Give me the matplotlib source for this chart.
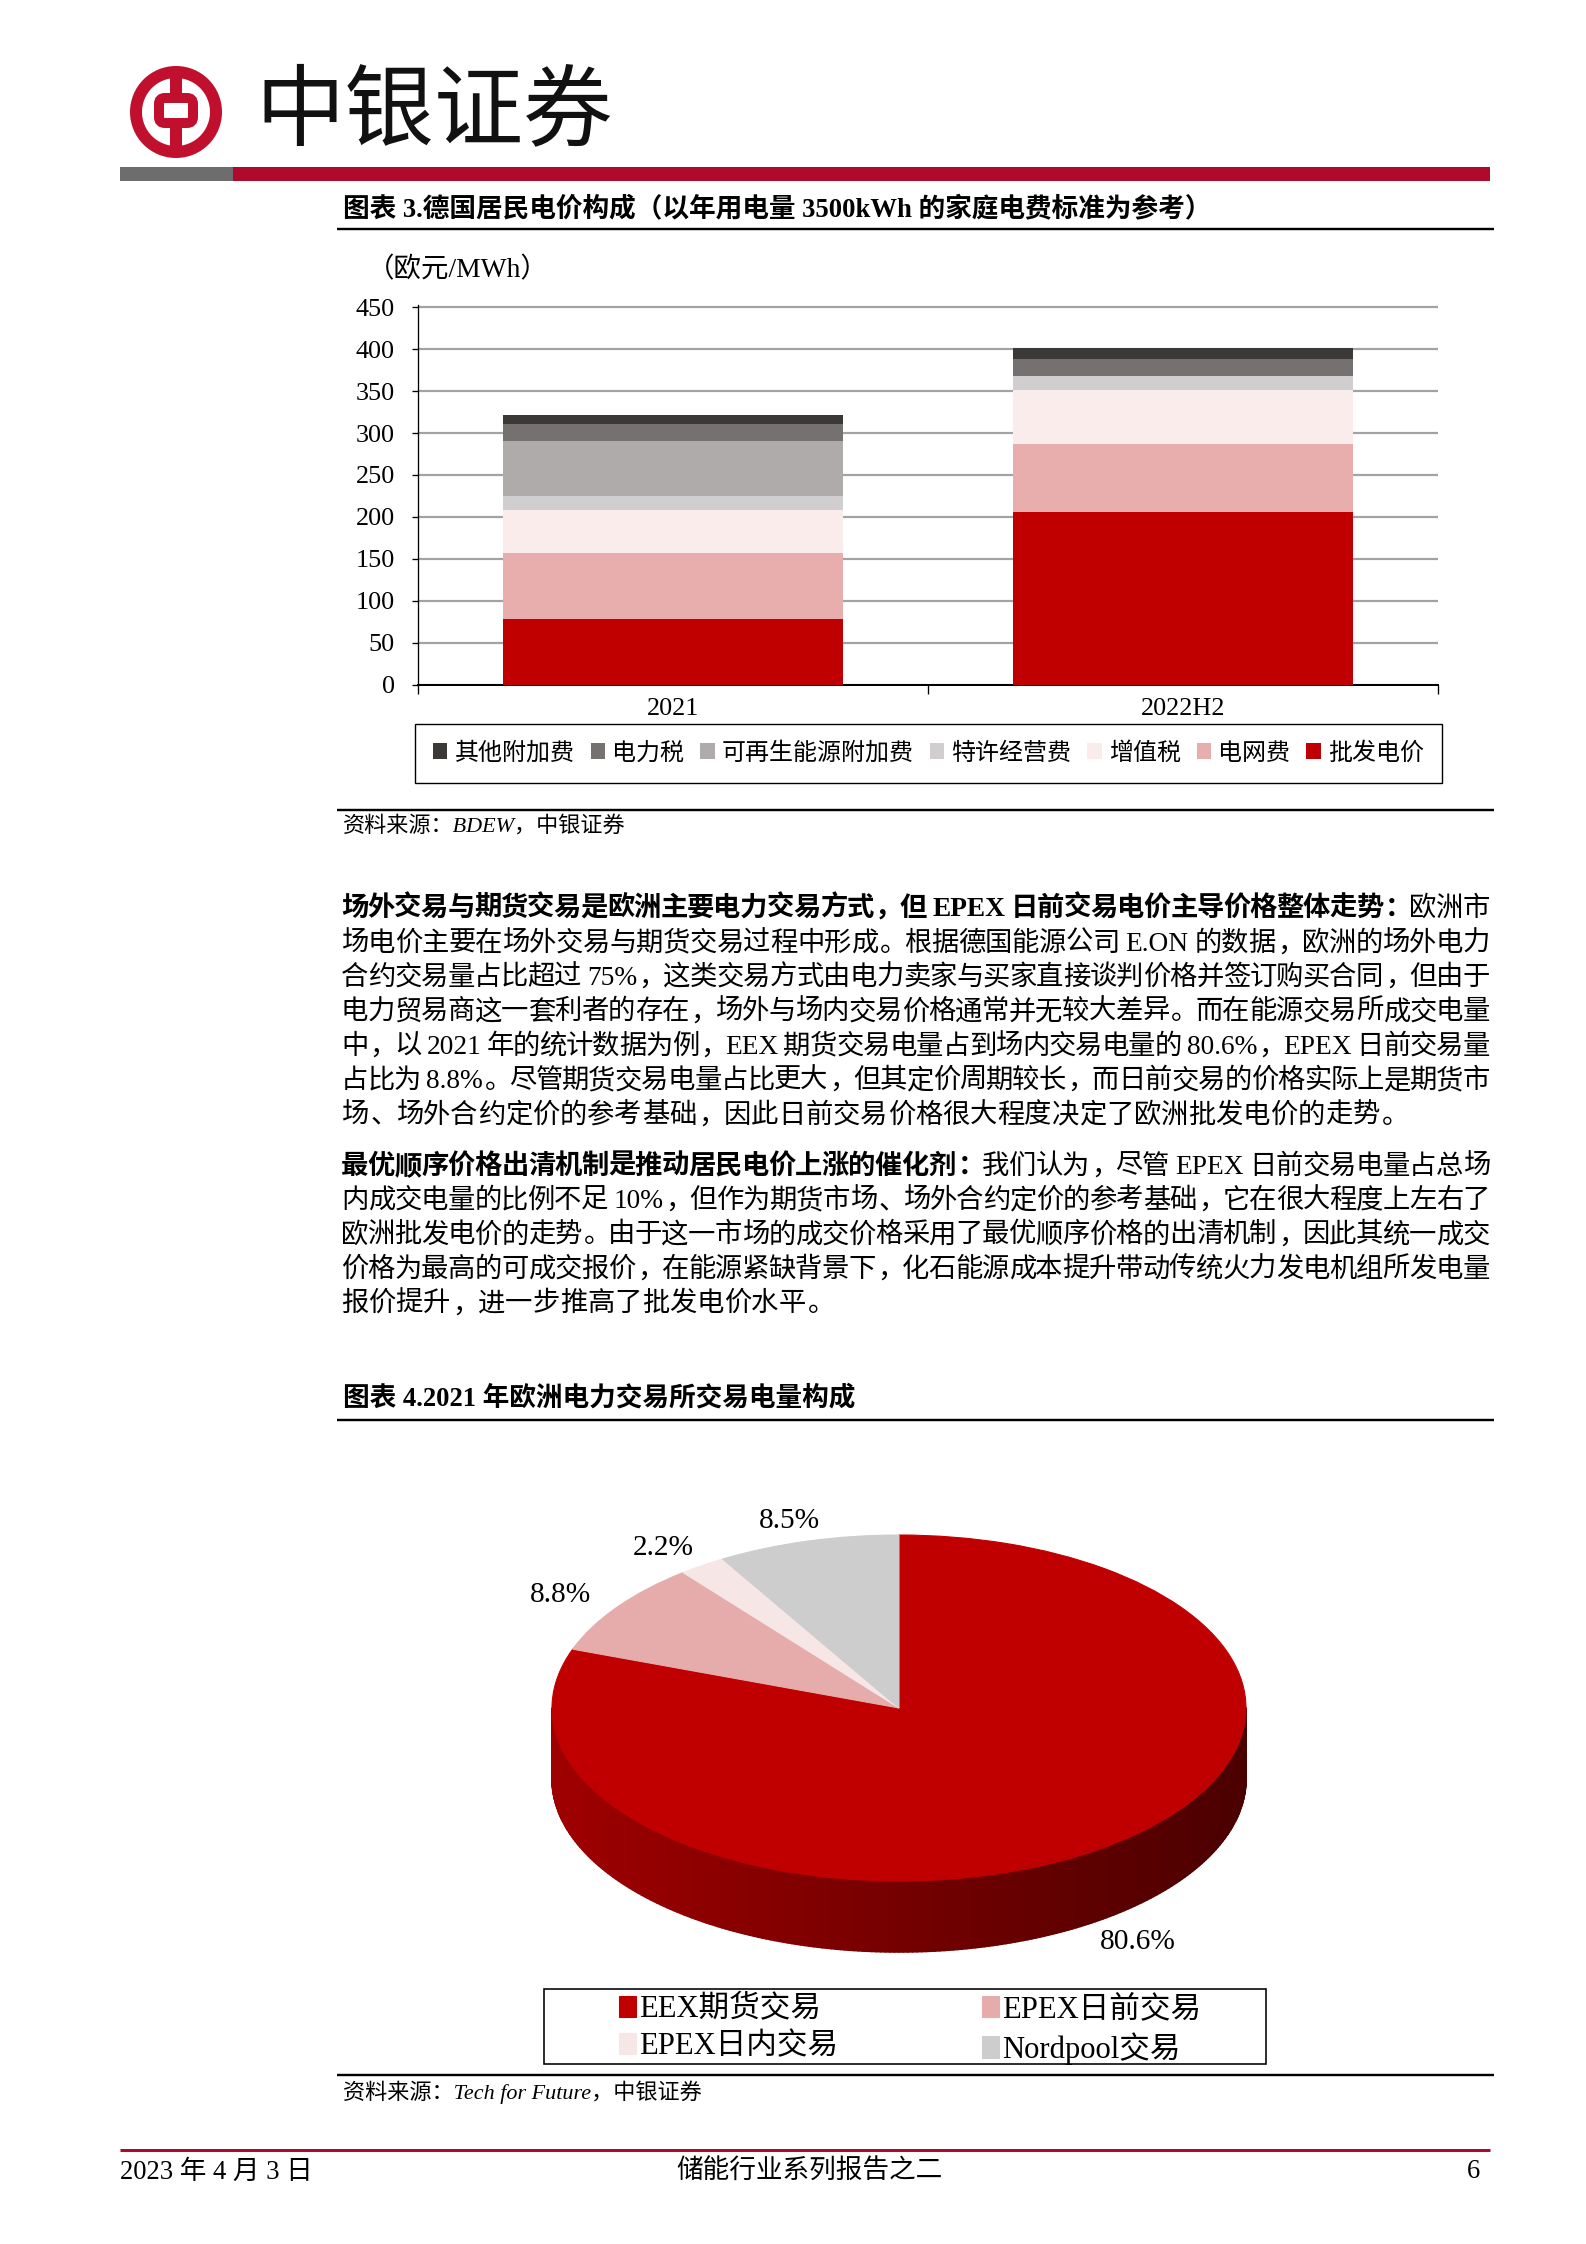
import re
import numpy as np
import matplotlib
matplotlib.use('Agg')
import matplotlib.pyplot as plt
from matplotlib import patches
from matplotlib.collections import PolyCollection
from matplotlib.transforms import Affine2D
from matplotlib.colors import to_rgb

# latin text in a Times-like face, chinese falls through to Noto CJK
plt.rcParams['font.family'] = ['Liberation Serif', 'Noto Sans CJK SC']

W, H, DPI = 1586, 2244, 192
PX = DPI / 72.0   # pixels per point

# ---- 图表3: 德国居民电价构成 (欧元/MWh) ----
periods = ['2021', '2022H2']
wholesale = [78.6, 206.1]     # 批发电价
grid_fee = [78.7, 81.0]       # 电网费
vat = [51.3, 64.0]            # 增值税
concession = [16.6, 16.6]     # 特许经营费
renewable = [65.0, 0.0]       # 可再生能源附加费
power_tax = [20.5, 20.5]      # 电力税
other_levy = [10.9, 12.5]     # 其他附加费
component_names = ['批发电价', '电网费', '增值税', '特许经营费', '可再生能源附加费', '电力税', '其他附加费']
component_colors = ['#C00000', '#E8ADAD', '#FAECEB', '#D0CECE', '#AFABAB', '#767171', '#3B3838']
y_ticks = [0, 50, 100, 150, 200, 250, 300, 350, 400, 450]

# ---- 图表4: 2021年欧洲电力交易所交易电量构成 (%) ----
exchange_names = ['EEX期货交易', 'EPEX日前交易', 'EPEX日内交易', 'Nordpool交易']
exchange_share = [80.6, 8.8, 2.2, 8.5]
exchange_colors = ['#C00000', '#E6ACAB', '#F7E6E6', '#CECDCD']

para1 = [
    [("场外交易与期货交易是欧洲主要电力交易方式，但 EPEX 日前交易电价主导价格整体走势：", True), ("欧洲市", False)],
    [("场电价主要在场外交易与期货交易过程中形成。根据德国能源公司 E.ON 的数据，欧洲的场外电力", False)],
    [("合约交易量占比超过 75%，这类交易方式由电力卖家与买家直接谈判价格并签订购买合同，但由于", False)],
    [("电力贸易商这一套利者的存在，场外与场内交易价格通常并无较大差异。而在能源交易所成交电量", False)],
    [("中，以 2021 年的统计数据为例，EEX 期货交易电量占到场内交易电量的 80.6%，EPEX 日前交易量", False)],
    [("占比为 8.8%。尽管期货交易电量占比更大，但其定价周期较长，而日前交易的价格实际上是期货市", False)],
    [("场、场外合约定价的参考基础，因此日前交易价格很大程度决定了欧洲批发电价的走势。", False)],
]
para2 = [
    [("最优顺序价格出清机制是推动居民电价上涨的催化剂：", True), ("我们认为，尽管 EPEX 日前交易电量占总场", False)],
    [("内成交电量的比例不足 10%，但作为期货市场、场外合约定价的参考基础，它在很大程度上左右了", False)],
    [("欧洲批发电价的走势。由于这一市场的成交价格采用了最优顺序价格的出清机制，因此其统一成交", False)],
    [("价格为最高的可成交报价，在能源紧缺背景下，化石能源成本提升带动传统火力发电机组所发电量", False)],
    [("报价提升，进一步推高了批发电价水平。", False)],
]


def fx(px):
    return px / W


def fy(py):
    return 1 - py / H


fig = plt.figure(figsize=(W / DPI, H / DPI), dpi=DPI)
# full page axes in pixel units (y down) for the report decorations
page = fig.add_axes([0, 0, 1, 1])
page.set_xlim(0, W)
page.set_ylim(H, 0)
page.axis('off')
renderer = fig.canvas.get_renderer()


def hline(y, x0=337, x1=1494, lw=2.4, color='black'):
    page.plot([x0, x1], [y, y], color=color, lw=lw / PX, solid_capstyle='butt')


# header: logo + name + bar
LOGO_RED = '#C0102E'
page.add_patch(patches.Circle((176, 112), 40, fill=False, ec=LOGO_RED, lw=12 / PX))
page.add_patch(patches.FancyBboxPatch((159, 98), 34, 25, boxstyle='round,pad=0,rounding_size=6',
                                      fill=False, ec=LOGO_RED, lw=10 / PX))
page.add_patch(patches.Rectangle((170, 68), 12, 30, color=LOGO_RED, lw=0))
page.add_patch(patches.Rectangle((170, 123), 12, 32, color=LOGO_RED, lw=0))
page.text(434, 113, '中银证券', fontsize=33.5, ha='center', va='center',
          family='Noto Sans CJK SC', color='#111111')
page.add_patch(patches.Rectangle((120, 167), 113, 14, color='#6D6D6D', lw=0))
page.add_patch(patches.Rectangle((233, 167), 1257, 14, color='#AF0A2C', lw=0))

# ---------------- chart 3 ----------------
page.text(343, 209, '图表 3.德国居民电价构成（以年用电量 3500kWh 的家庭电费标准为参考）',
          fontsize=10, fontweight='bold', va='center')
hline(229)
page.text(367, 270, '（欧元/MWh）', fontsize=10.3, ha='left', va='center')

px_per_unit = (685 - 307) / 450.0
top_px = 685 - 452 * px_per_unit
bx = fig.add_axes([fx(418), fy(685), (1438 - 418) / W, (685 - top_px) / H])
x = np.arange(len(periods))
bottom = np.zeros(len(periods))
series = [wholesale, grid_fee, vat, concession, renewable, power_tax, other_levy]
for name, vals, c in zip(component_names, series, component_colors):
    bx.bar(x, vals, 0.667, bottom=bottom, color=c, label=name, zorder=3, lw=0)
    bottom += np.array(vals)

bx.set_xlim(-0.5, 1.5)
bx.set_ylim(0, 452)
bx.set_yticks(y_ticks)
bx.yaxis.grid(True, color='#A3A3A3', lw=2.2 / PX)
bx.set_axisbelow(True)
for s in ['top', 'right']:
    bx.spines[s].set_visible(False)
bx.spines['left'].set_linewidth(1.3 / PX)
bx.spines['bottom'].set_linewidth(2.0 / PX)
bx.tick_params(axis='y', direction='out', length=2.2, width=0.5, pad=6.5, labelsize=9.8)
bx.set_xticks(x)
bx.set_xticklabels(periods)
bx.set_xticks([-0.5, 0.5, 1.5], minor=True)
bx.tick_params(axis='x', which='major', length=0, pad=5, labelsize=9.8)
bx.tick_params(axis='x', which='minor', direction='out', length=3.5, width=0.5)

h, l = bx.get_legend_handles_labels()
leg = bx.legend(h[::-1], l[::-1], ncol=7, loc='center', mode='expand',
                bbox_to_anchor=(fx(415), fy(781), (1442 - 415) / W, (781 - 726) / H),
                bbox_transform=fig.transFigure, frameon=True, fancybox=False,
                edgecolor='black', framealpha=1, fontsize=9, handlelength=0.6,
                handleheight=0.65, handletextpad=0.3, columnspacing=0.8,
                borderpad=0.75, borderaxespad=0)
leg.get_frame().set_linewidth(1.4 / PX)

hline(810)
page.text(343, 826, '资料来源：BDEW，中银证券', fontsize=8.3, style='italic', va='center')

# ---------------- body text ----------------
BODY_FS = 10.25
EM = BODY_FS * PX
PUNCT = '，。、：；'


def latin_width(s, bold):
    t = page.text(0, 0, s, fontsize=BODY_FS, fontweight='bold' if bold else 'normal')
    w = t.get_window_extent(renderer).width
    t.remove()
    return w


def body_line(segments, y, justify=True, x0=341, x1=1490):
    toks = []
    for s, bold in segments:
        for m in re.finditer(r'[A-Za-z0-9.%]+|.', s):
            toks.append((m.group(), bold))
    widths, kinds = [], []
    for tok, bold in toks:
        if tok == ' ':
            widths.append(0.25 * EM)
            kinds.append('space')
        elif re.match(r'[A-Za-z0-9.%]', tok):
            widths.append(latin_width(tok, bold))
            kinds.append('latin')
        else:
            widths.append(EM)
            kinds.append('punct' if tok in PUNCT else 'cjk')
    gap = (x1 - x0 - sum(widths)) / (len(toks) - 1) if justify else 0
    base = y + 0.37 * EM
    xc = x0
    for (tok, bold), w, k in zip(toks, widths, kinds):
        kw = dict(fontsize=BODY_FS, fontweight='bold' if bold else 'normal', va='baseline')
        if k == 'punct':
            page.text(xc + 0.08 * EM, base, tok, ha='left', **kw)
        elif k == 'cjk':
            page.text(xc + w / 2, base, tok, ha='center', **kw)
        elif k == 'latin':
            page.text(xc, base, tok, ha='left', **kw)
        xc += w + gap


LINE_STEP = 34.4
for i, segs in enumerate(para1):
    body_line(segs, 906 + i * LINE_STEP, justify=i < len(para1) - 1)
for i, segs in enumerate(para2):
    body_line(segs, 1163.5 + i * LINE_STEP, justify=i < len(para2) - 1)

# ---------------- chart 4 (3D-look pie) ----------------
page.text(343, 1399, '图表 4.2021 年欧洲电力交易所交易电量构成', fontsize=10, fontweight='bold', va='center')
hline(1420)

cx, cy, ra, rb, depth = 899, 1708, 347, 173, 71
ellipse = Affine2D().scale(ra, -rb).translate(cx, cy) + page.transData
total = sum(exchange_share)
bounds = []
start = 90.0
for v in exchange_share:
    span = 360.0 * v / total
    bounds.append((start - span, start))
    start -= span


def slice_at(ang):
    for i, (t1, t2) in enumerate(bounds):
        for k in (-360, 0, 360):
            if t1 <= ang + k <= t2:
                return i
    return 0


# front wall of the disc, shaded darker toward the right
phis = np.linspace(-180, 0, 241)
polys, cols = [], []
for p0, p1 in zip(phis[:-1], phis[1:]):
    pm = 0.5 * (p0 + p1)
    base_rgb = np.array(to_rgb(exchange_colors[slice_at(pm)]))
    shade = 0.83 - 0.44 * (1 + np.cos(np.radians(pm))) / 2
    xa, xb = cx + ra * np.cos(np.radians(p0)), cx + ra * np.cos(np.radians(p1))
    ya, yb = cy - rb * np.sin(np.radians(p0)), cy - rb * np.sin(np.radians(p1))
    polys.append([(xa, ya), (xb, yb), (xb, yb + depth), (xa, ya + depth)])
    cols.append(tuple(base_rgb * shade))
page.add_collection(PolyCollection(polys, facecolors=cols, edgecolors=cols, linewidths=0.6))

wedges = []
for (t1, t2), c in zip(bounds, exchange_colors):
    wdg = patches.Wedge((0, 0), 1, t1, t2, transform=ellipse, fc=c, ec=c, lw=0.4)
    page.add_patch(wdg)
    wedges.append(wdg)

for (t1, t2), v in zip(bounds, exchange_share):
    tm = np.radians(0.5 * (t1 + t2))
    lx = cx + 1.2 * ra * np.cos(tm)
    ly = cy - 1.12 * rb * np.sin(tm) + (depth + 4 if np.sin(tm) < 0 else 0)
    page.text(lx, ly, f'{v}%', fontsize=11, ha='center', va='center')

order = [0, 2, 1, 3]
page.legend([wedges[i] for i in order], [exchange_names[i] for i in order], ncol=2,
            loc='center', bbox_to_anchor=(910, 2030), bbox_transform=page.transData,
            frameon=False, fontsize=11.5, handlelength=0.55, handleheight=0.7,
            handletextpad=0.1, columnspacing=4.7, labelspacing=0.25)
page.add_patch(patches.Rectangle((544, 1989), 722, 75, fill=False, ec='black', lw=1.6 / PX))

hline(2075)
page.text(343, 2092, '资料来源：Tech for Future，中银证券', fontsize=8.3, style='italic', va='center')

# footer
hline(2150, x0=120, x1=1490, lw=3, color='#AF0A2C')
page.text(120, 2172, '2023 年 4 月 3 日', fontsize=10, ha='left', va='center')
page.text(809, 2172, '储能行业系列报告之二', fontsize=10, ha='center', va='center')
page.text(1473, 2172, '6', fontsize=10, ha='center', va='center')

fig.savefig('out.png', dpi=DPI)
